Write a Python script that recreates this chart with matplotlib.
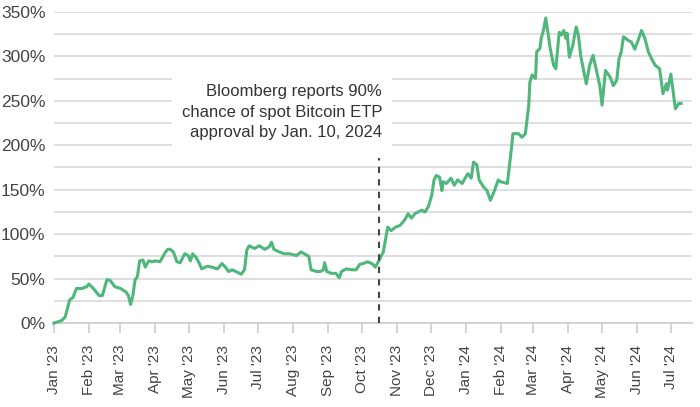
import numpy as np
import pandas as pd
import matplotlib
matplotlib.use("Agg")
import matplotlib.pyplot as plt
import matplotlib.dates as mdates
from matplotlib.ticker import MultipleLocator, FuncFormatter

# ----------------------------------------
# Data
# ----------------------------------------
dates = [
    "2023-01-01", "2023-01-08", "2023-01-11", "2023-01-15", "2023-01-18", "2023-01-21",
    "2023-01-26", "2023-01-30", "2023-02-01", "2023-02-05", "2023-02-10", "2023-02-13",
    "2023-02-17", "2023-02-20", "2023-02-24", "2023-03-01", "2023-03-06", "2023-03-08",
    "2023-03-10", "2023-03-12", "2023-03-14", "2023-03-16", "2023-03-18", "2023-03-21",
    "2023-03-23", "2023-03-26", "2023-03-29", "2023-04-01", "2023-04-05", "2023-04-10",
    "2023-04-12", "2023-04-14", "2023-04-17", "2023-04-20", "2023-04-23", "2023-04-27",
    "2023-04-30", "2023-05-02", "2023-05-04", "2023-05-07", "2023-05-10", "2023-05-12",
    "2023-05-17", "2023-05-21", "2023-05-26", "2023-05-30", "2023-06-02", "2023-06-05",
    "2023-06-08", "2023-06-13", "2023-06-16", "2023-06-19", "2023-06-21", "2023-06-23",
    "2023-06-28", "2023-07-02", "2023-07-07", "2023-07-11", "2023-07-13", "2023-07-15",
    "2023-07-20", "2023-07-24", "2023-07-29", "2023-08-04", "2023-08-08", "2023-08-11",
    "2023-08-15", "2023-08-17", "2023-08-22", "2023-08-25", "2023-08-28", "2023-08-29",
    "2023-08-31", "2023-09-04", "2023-09-08", "2023-09-11", "2023-09-13", "2023-09-17",
    "2023-09-22", "2023-09-26", "2023-09-29", "2023-10-02", "2023-10-06", "2023-10-10",
    "2023-10-13", "2023-10-16", "2023-10-20", "2023-10-23", "2023-10-24", "2023-10-27",
    "2023-10-31", "2023-11-04", "2023-11-08", "2023-11-11", "2023-11-14", "2023-11-17",
    "2023-11-23", "2023-11-26", "2023-11-29", "2023-12-02", "2023-12-04", "2023-12-06",
    "2023-12-09", "2023-12-11", "2023-12-12", "2023-12-15", "2023-12-19", "2023-12-22",
    "2023-12-25", "2023-12-29", "2024-01-01", "2024-01-03", "2024-01-06", "2024-01-08",
    "2024-01-11", "2024-01-13", "2024-01-17", "2024-01-20", "2024-01-23", "2024-01-26",
    "2024-01-30", "2024-02-01", "2024-02-07", "2024-02-10", "2024-02-12", "2024-02-17",
    "2024-02-20", "2024-02-23", "2024-02-26", "2024-02-27", "2024-02-29", "2024-03-03",
    "2024-03-04", "2024-03-07", "2024-03-08", "2024-03-10", "2024-03-12", "2024-03-14",
    "2024-03-16", "2024-03-19", "2024-03-21", "2024-03-24", "2024-03-26", "2024-03-28",
    "2024-03-30", "2024-03-31", "2024-04-02", "2024-04-05", "2024-04-08", "2024-04-10",
    "2024-04-12", "2024-04-15", "2024-04-17", "2024-04-20", "2024-04-23", "2024-04-26",
    "2024-04-29", "2024-05-01", "2024-05-04", "2024-05-08", "2024-05-11", "2024-05-14",
    "2024-05-16", "2024-05-18", "2024-05-20", "2024-05-24", "2024-05-27", "2024-05-30",
    "2024-06-02", "2024-06-05", "2024-06-08", "2024-06-11", "2024-06-14", "2024-06-17",
    "2024-06-21", "2024-06-24", "2024-06-27", "2024-06-28", "2024-07-01", "2024-07-05",
    "2024-07-08", "2024-07-10",
]
returns_pct = [
    0, 3, 7, 26, 29, 39,
    39, 41, 44, 39, 31, 31,
    49, 48, 41, 39, 35, 31,
    21, 31, 49, 52, 70, 71,
    63, 70, 69, 70, 69, 80,
    83, 83, 80, 69, 68, 78,
    76, 70, 78, 74, 67, 61,
    64, 63, 61, 67, 63, 58,
    60, 57, 55, 60, 82, 87,
    84, 87, 83, 86, 91, 83,
    80, 78, 78, 76, 80, 78,
    75, 60, 58, 58, 60, 68,
    58, 56, 56, 51, 58, 61,
    60, 60, 66, 67, 69, 67,
    63, 70, 80, 101, 108, 104,
    108, 110, 116, 123, 118, 123,
    127, 125, 131, 144, 161, 166,
    164, 149, 159, 157, 163, 155,
    161, 157, 164, 168, 163, 181,
    178, 161, 153, 149, 138, 147,
    161, 159, 157, 189, 213, 213,
    209, 213, 245, 271, 279, 275,
    305, 309, 320, 329, 343, 327,
    309, 290, 286, 327, 324, 329,
    320, 326, 299, 312, 333, 324,
    301, 282, 269, 290, 301, 284,
    267, 245, 284, 277, 267, 273,
    297, 305, 322, 318, 316, 308,
    318, 329, 320, 305, 297, 290,
    286, 258, 269, 262, 280, 241,
    247, 247,
]
event_date = "2023-10-16"
event_top = 186
event_text = "Bloomberg reports 90%\nchance of spot Bitcoin ETP\napproval by Jan. 10, 2024"
text_anchor_date = "2023-10-19"
text_anchor_y = 237

series = pd.Series(returns_pct, index=pd.to_datetime(dates))

# ----------------------------------------
# Plot
# ----------------------------------------
plt.rcParams['font.family'] = ['Liberation Sans', 'DejaVu Sans']

fig = plt.figure(figsize=(7.0, 4.07), dpi=100)
ax = fig.add_axes([0.077, 0.206, 0.912, 0.765])

grid_col = '#d9d9d9'
line_col = '#4fb67c'
text_col = '#333333'

ax.plot(series.index, series.values, color=line_col, linewidth=2.2, zorder=3,
        solid_joinstyle='round', clip_on=False)

ax.set_ylim(0, 350)
ax.set_xlim(pd.Timestamp("2023-01-01"), pd.Timestamp("2024-07-20"))
ax.yaxis.set_major_locator(MultipleLocator(50))
ax.yaxis.set_minor_locator(MultipleLocator(25))
ax.yaxis.set_major_formatter(FuncFormatter(lambda v, p: f"{v:.0f}%"))
ax.grid(True, which='both', axis='y', color=grid_col, linewidth=1.2, zorder=0)
ax.set_axisbelow(True)

ax.xaxis.set_major_locator(mdates.MonthLocator())
ax.xaxis.set_major_formatter(mdates.DateFormatter("%b '%y"))
plt.setp(ax.get_xticklabels(), rotation=90)

for s in ['top', 'right', 'left']:
    ax.spines[s].set_visible(False)
ax.spines['bottom'].set_color('#cccccc')
ax.spines['bottom'].set_linewidth(1.2)
ax.spines['bottom'].set_zorder(1)

ax.tick_params(axis='y', which='both', length=0, pad=6, labelsize=12.5, labelcolor='#444444')
ax.tick_params(axis='x', length=7.5, width=1.2, color='#cccccc', pad=8, labelsize=11, labelcolor='#444444')

# Event marker and note
ev = pd.Timestamp(event_date)
ax.plot([ev, ev], [0, event_top], color='#444444', linewidth=1.5, linestyle=(0, (3, 3)), zorder=4)
ax.text(pd.Timestamp(text_anchor_date), text_anchor_y, event_text, ha='right', va='center',
        multialignment='right', fontsize=12, color=text_col, linespacing=1.45, zorder=5,
        bbox=dict(facecolor='white', edgecolor='none', boxstyle='square,pad=0.6'))

plt.savefig("out.png", dpi=100)
